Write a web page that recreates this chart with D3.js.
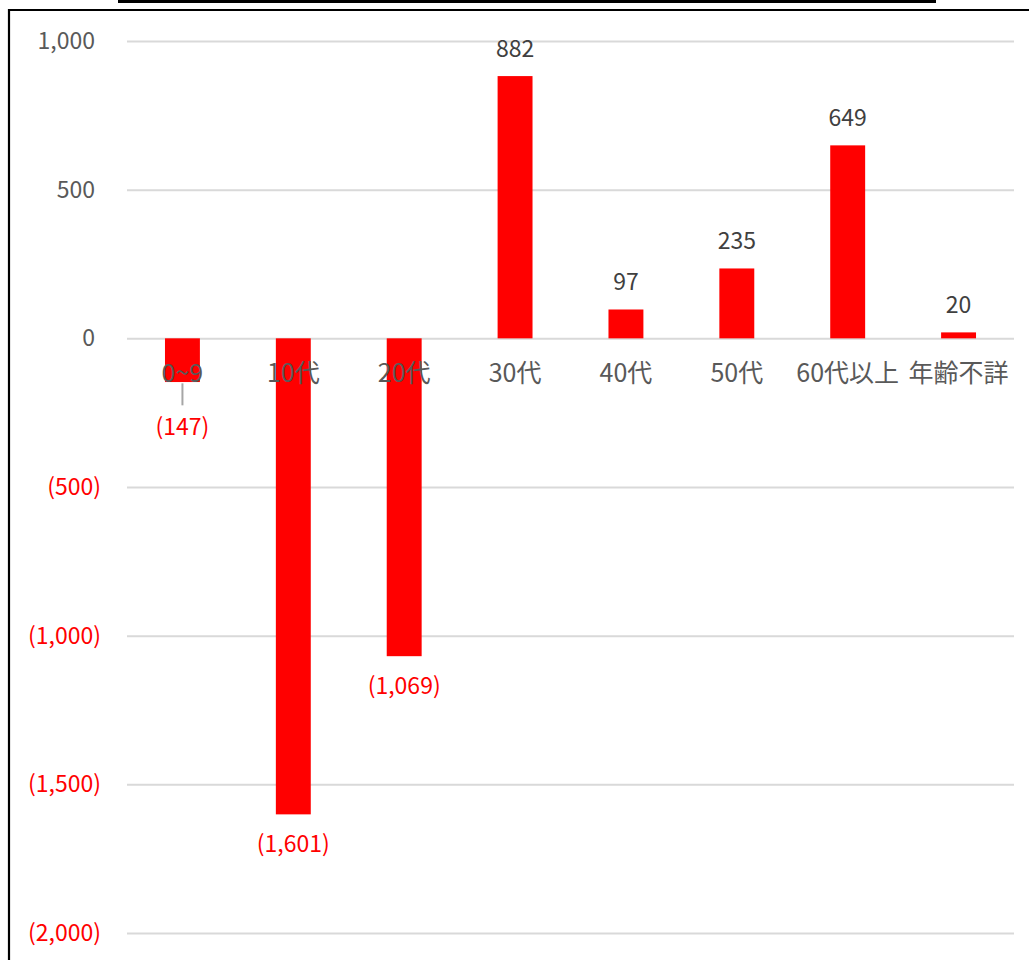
<!DOCTYPE html>
<html>
<head>
<meta charset="utf-8">
<script src="https://cdn.jsdelivr.net/npm/d3@7"></script>
<style>
  html, body { margin: 0; padding: 0; background: #fff; }
  svg { display: block; }
  text { font-family: "Noto Sans CJK JP", "Noto Sans", sans-serif; }
</style>
</head>
<body>
<svg id="chart" width="1029" height="960"></svg>
<script>
// Net change by age group
const categories = ["0~9", "10代", "20代", "30代", "40代", "50代", "60代以上", "年齢不詳"];
const values = [-147, -1601, -1069, 882, 97, 235, 649, 20];
const yTicks = [1000, 500, 0, -500, -1000, -1500, -2000];

const svg = d3.select("#chart");
const W = 1029, H = 960;
const plot = { left: 127, right: 1014, top: 41, bottom: 933 };

// Accounting-style number format: negatives in parentheses
const fmt = d3.format(",");
const acct = v => v < 0 ? "(" + fmt(-v) + ")" : fmt(v);

const x = d3.scaleBand()
  .domain(categories)
  .range([plot.left, plot.right])
  .paddingInner(0.685)
  .paddingOuter(0.3425);

const y = d3.scaleLinear()
  .domain([-2000, 1000])
  .range([plot.bottom, plot.top]);

// Outer frame and title box edge
svg.append("rect").attr("x", 0).attr("y", 0).attr("width", W).attr("height", H).attr("fill", "#fff");
svg.append("line").attr("x1", 9).attr("x2", 9).attr("y1", 9).attr("y2", H)
  .attr("stroke", "#000").attr("stroke-width", 2.2);
svg.append("line").attr("x1", 8).attr("x2", W).attr("y1", 10).attr("y2", 10)
  .attr("stroke", "#000").attr("stroke-width", 2.2);
svg.append("rect").attr("x", 118).attr("y", 0).attr("width", 818).attr("height", 3)
  .attr("fill", "#000");

// Gridlines and value axis labels
const yAxis = d3.axisLeft(y)
  .tickValues(yTicks)
  .tickSize(-(plot.right - plot.left))
  .tickPadding(26)
  .tickFormat(acct);

const gy = svg.append("g")
  .attr("transform", `translate(${plot.left},0)`)
  .call(yAxis);
gy.select(".domain").remove();
gy.selectAll(".tick line").attr("stroke", "#d9d9d9").attr("stroke-width", 2);
gy.selectAll(".tick text")
  .attr("font-size", 23)
  .attr("font-family", "\"Noto Sans CJK JP\", sans-serif")
  .attr("fill", d => d < 0 ? "#ff0000" : "#595959")
  // non-negative values leave room for the closing parenthesis
  .attr("dx", d => d < 0 ? 0 : -6);

// Bars
svg.append("g").selectAll("rect")
  .data(categories.map((c, i) => ({ c, v: values[i] })))
  .join("rect")
  .attr("x", d => x(d.c))
  .attr("width", x.bandwidth())
  .attr("y", d => y(Math.max(0, d.v)))
  .attr("height", d => Math.abs(y(d.v) - y(0)))
  .attr("fill", "#ff0000");

// Category labels sit just below the zero line
svg.append("g").selectAll("text")
  .data(categories)
  .join("text")
  .attr("x", d => x(d) + x.bandwidth() / 2)
  .attr("y", y(0) + 44)
  .attr("text-anchor", "middle")
  .attr("font-size", 25)
  .attr("fill", "#595959")
  .text(d => d);

// Data labels
const labels = svg.append("g");
categories.forEach((c, i) => {
  const v = values[i];
  const cx = x(c) + x.bandwidth() / 2;
  if (i === 0) {
    // small negative bar: label pulled down with a leader line
    labels.append("line")
      .attr("x1", cx).attr("x2", cx)
      .attr("y1", y(0) + 45).attr("y2", y(0) + 67)
      .attr("stroke", "#a6a6a6").attr("stroke-width", 2);
    labels.append("text")
      .attr("x", cx).attr("y", y(0) + 97)
      .attr("text-anchor", "middle")
      .attr("font-size", 23)
      .attr("fill", "#ff0000")
      .text(acct(v));
  } else if (v < 0) {
    labels.append("text")
      .attr("x", cx).attr("y", y(v) + 38)
      .attr("text-anchor", "middle")
      .attr("font-size", 23)
      .attr("fill", "#ff0000")
      .text(acct(v));
  } else {
    labels.append("text")
      .attr("x", cx).attr("y", y(v) - 19)
      .attr("text-anchor", "middle")
      .attr("font-size", 23)
      .attr("fill", "#404040")
      .text(acct(v));
  }
});
</script>
</body>
</html>
